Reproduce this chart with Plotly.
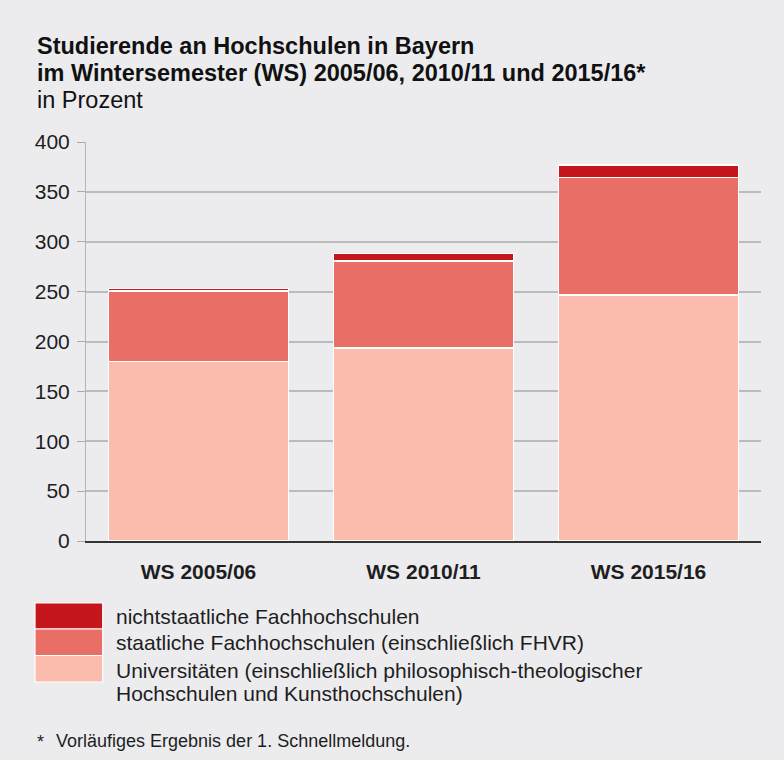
import plotly.graph_objects as go

categories = ["WS 2005/06", "WS 2010/11", "WS 2015/16"]
universitaeten = [180, 193.5, 246.5]
staatliche_fh = [70.5, 87, 118]
nichtstaatliche_fh = [2.5, 7.5, 12.5]

series_names = [
    "nichtstaatliche Fachhochschulen",
    "staatliche Fachhochschulen (einschließlich FHVR)",
    "Universitäten (einschließlich philosophisch-theologischer",
]
uni_line2 = "Hochschulen und Kunsthochschulen)"
y_ticks = [0, 50, 100, 150, 200, 250, 300, 350, 400]

title_l1 = "Studierende an Hochschulen in Bayern"
title_l2 = "im Wintersemester (WS) 2005/06, 2010/11 und 2015/16*"
subtitle = "in Prozent"
footnote = "Vorläufiges Ergebnis der 1. Schnellmeldung."

C_NICHT = "#C4161C"
C_STAAT = "#E96E66"
C_UNI = "#FBBCAE"
BG = "#ECECEF"
TXT = "#1E1E1E"
FONT = "Liberation Sans, Arial, Helvetica, sans-serif"

W, H = 784, 760
L, R, T, B = 86, 23, 142, 219
PW, PH = W - L - R, H - T - B


def px(x):
    return (x - L) / PW


def py(y):
    return (H - B - y) / PH


fig = go.Figure()
for name, vals, col in [
    (series_names[2], universitaeten, C_UNI),
    (series_names[1], staatliche_fh, C_STAAT),
    (series_names[0], nichtstaatliche_fh, C_NICHT),
]:
    fig.add_trace(go.Bar(
        x=categories, y=vals, name=name,
        marker=dict(color=col, line=dict(color="white", width=1.5)),
        showlegend=False, hoverinfo="x+y+name",
    ))

shapes = []
annotations = []

# legend boxes
for (y0, y1, col) in [(603, 629, C_NICHT), (629, 655.5, C_STAAT), (655.5, 682, C_UNI)]:
    shapes.append(dict(type="rect", xref="paper", yref="paper",
                       x0=px(35), x1=px(102.7), y0=py(y1), y1=py(y0),
                       fillcolor=col, line=dict(color="white", width=1.2), layer="above"))

legend_texts = [
    (series_names[0], 616),
    (series_names[1], 642),
    (series_names[2], 670.5),
    (uni_line2, 693.5),
]
for txt, yc in legend_texts:
    annotations.append(dict(text=txt, xref="paper", yref="paper", x=px(114), y=py(yc),
                            xanchor="left", yanchor="middle", showarrow=False,
                            font=dict(family=FONT, size=21, color=TXT)))

# titles
for txt, yc, bold in [(title_l1, 46, True), (title_l2, 73, True), (subtitle, 100, False)]:
    annotations.append(dict(text=txt, xref="paper", yref="paper", x=px(35), y=py(yc),
                            xanchor="left", yanchor="middle", showarrow=False,
                            font=dict(family=FONT, size=23.5, color="#111111",
                                      weight="bold" if bold else "normal")))

# footnote
annotations.append(dict(text="*", xref="paper", yref="paper", x=px(35), y=py(742),
                        xanchor="left", yanchor="middle", showarrow=False,
                        font=dict(family=FONT, size=18, color=TXT)))
annotations.append(dict(text=footnote, xref="paper", yref="paper", x=px(54), y=py(741),
                        xanchor="left", yanchor="middle", showarrow=False,
                        font=dict(family=FONT, size=18, color=TXT)))

fig.update_layout(
    width=W, height=H,
    margin=dict(l=L, r=R, t=T, b=B, pad=0),
    paper_bgcolor=BG, plot_bgcolor=BG,
    barmode="stack", bargap=0.2,
    font=dict(family=FONT, color=TXT),
    shapes=shapes, annotations=annotations,
    xaxis=dict(
        showgrid=False, showline=True, linecolor="#333333", linewidth=2,
        ticks="", tickfont=dict(family=FONT, size=21, color=TXT, weight="bold"),
        ticklabelstandoff=11, layer="above traces",
    ),
    yaxis=dict(
        range=[0, 400], tickvals=y_ticks, showgrid=True, gridcolor="#BBBBBB", gridwidth=1.5,
        zeroline=False, showline=True, linecolor="#B5B5B5", linewidth=1,
        ticks="outside", ticklen=8, tickcolor="#AAAAAA", tickwidth=1,
        tickfont=dict(family=FONT, size=21, color=TXT), ticklabelstandoff=3,
    ),
)

fig.write_html(
    "out.html",
    config={"displayModeBar": False},
    post_script="document.body.style.margin='0';document.body.style.background='" + BG + "';",
)
